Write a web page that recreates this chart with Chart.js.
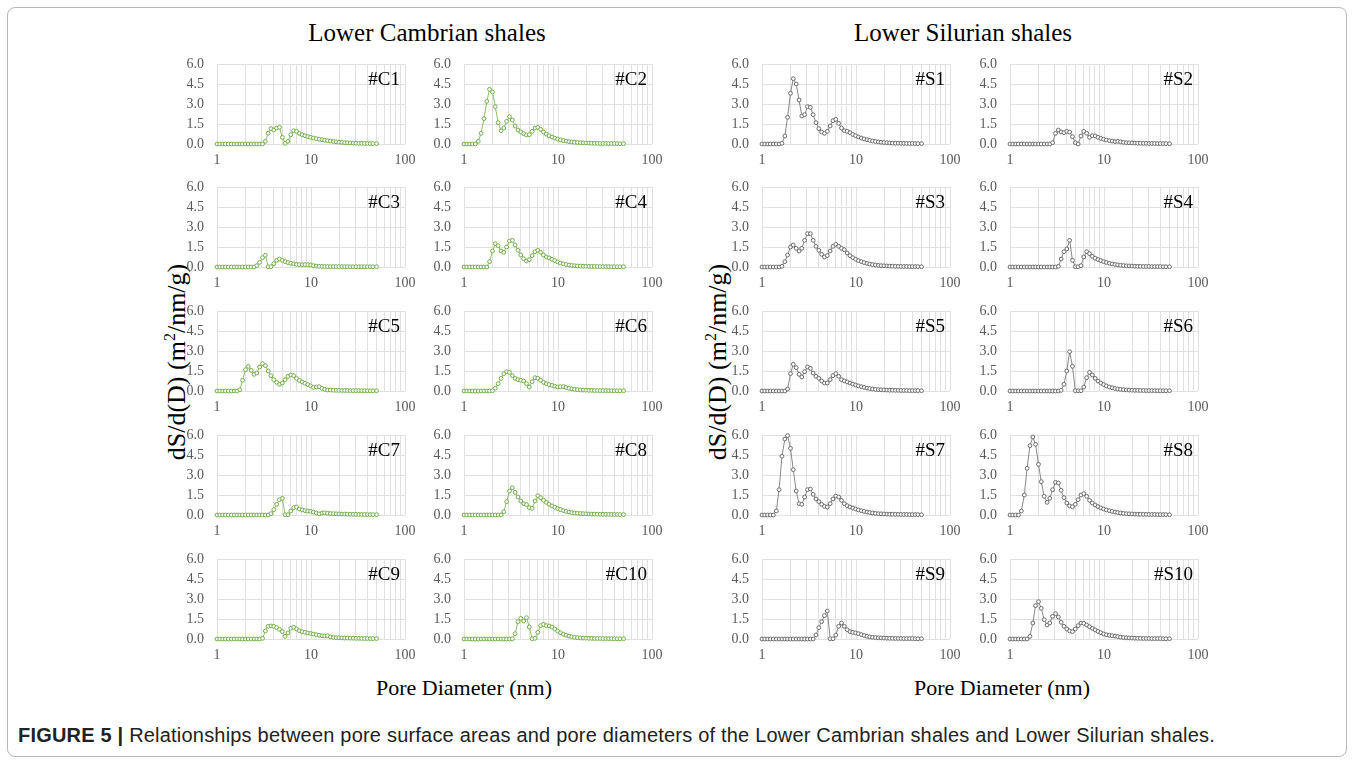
<!DOCTYPE html>
<html>
<head>
<meta charset="utf-8">
<script src="https://cdn.jsdelivr.net/npm/chart.js@4.4.1/dist/chart.umd.min.js"></script>
<style>
  html, body { margin: 0; padding: 0; background: #fff; }
  body { width: 1354px; height: 762px; position: relative; overflow: hidden; font-family: "Liberation Serif", serif; }
  .frame { position: absolute; left: 7px; top: 7px; width: 1338px; height: 748px; border: 1px solid #b8b8b8; border-radius: 8px; }
  .panel { position: absolute; }
  .txt { position: absolute; white-space: nowrap; color: #000; }
  .group-title { font-size: 25px; transform: translate(-50%, -50%); }
  .ylab { font-size: 26px; transform: translate(-50%, -50%) rotate(-90deg); }
  .ylab sup { font-size: 16px; vertical-align: 10px; line-height: 0; }
  .xlab { font-size: 22px; transform: translate(-50%, -50%); }
  .caption { left: 18px; top: 724px; font-family: "Liberation Sans", Arial, sans-serif; font-size: 20px; letter-spacing: 0.2px; color: #222; }
  .caption b { font-weight: bold; }
</style>
</head>
<body>
<div class="frame"></div>
<div class="txt group-title" style="left:427px; top:33px;">Lower Cambrian shales</div>
<div class="txt group-title" style="left:963px; top:33px;">Lower Silurian shales</div>
<div class="txt ylab" style="left:177px; top:362px;">dS/d(D) (m<sup>2</sup>/nm/g)</div>
<div class="txt ylab" style="left:718px; top:362px;">dS/d(D) (m<sup>2</sup>/nm/g)</div>
<div class="txt xlab" style="left:464px; top:688px;">Pore Diameter (nm)</div>
<div class="txt xlab" style="left:1002px; top:688px;">Pore Diameter (nm)</div>
<div class="txt caption"><b>FIGURE 5 |</b> Relationships between pore surface areas and pore diameters of the Lower Cambrian shales and Lower Silurian shales.</div>

<script>
// pore diameters (nm), shared by every panel
const diameters = [1.00, 1.07, 1.15, 1.23, 1.32, 1.42, 1.52, 1.63, 1.75, 1.87,
    2.01, 2.15, 2.31, 2.48, 2.65, 2.84, 3.05, 3.27, 3.50, 3.75,
    4.02, 4.31, 4.62, 4.95, 5.31, 5.69, 6.10, 6.54, 7.01, 7.51,
    8.05, 8.63, 9.25, 9.91, 10.6, 11.4, 12.2, 13.1, 14.0, 15.0,
    16.1, 17.3, 18.5, 19.8, 21.3, 22.8, 24.4, 26.2, 28.1, 30.1,
    32.3, 34.6, 37.1, 39.7, 42.6, 45.6, 49.8];

// Lower Cambrian shales, dS/d(D)
const c1 = [0, 0, 0, 0, 0, 0, 0, 0, 0, 0,
    0, 0, 0, 0, 0, 0, 0, 0.2, 0.8, 1.15,
    1.05, 1.2, 1.25, 0.5, 0.05, 0.2, 0.7, 1.0, 0.95, 0.8,
    0.7, 0.62, 0.55, 0.5, 0.45, 0.4, 0.36, 0.32, 0.28, 0.25,
    0.22, 0.19, 0.16, 0.14, 0.12, 0.1, 0.09, 0.08, 0.07, 0.06,
    0.05, 0.05, 0.04, 0.04, 0.03, 0.03, 0.03];
const c2 = [0, 0, 0, 0, 0, 0.2, 0.8, 1.9, 3.2, 4.1,
    3.9, 2.8, 1.6, 1.0, 1.2, 1.7, 2.05, 1.8, 1.35, 1.05,
    0.9, 0.78, 0.68, 0.7, 0.95, 1.2, 1.25, 1.1, 0.9, 0.75,
    0.62, 0.52, 0.44, 0.37, 0.31, 0.26, 0.22, 0.18, 0.15, 0.13,
    0.11, 0.1, 0.09, 0.08, 0.07, 0.06, 0.05, 0.05, 0.04, 0.04,
    0.04, 0.03, 0.03, 0.03, 0.03, 0.02, 0.02];
const c3 = [0, 0, 0, 0, 0, 0, 0, 0, 0, 0,
    0, 0, 0, 0, 0.1, 0.35, 0.7, 0.88, 0.02, 0.02,
    0.25, 0.5, 0.6, 0.5, 0.4, 0.33, 0.28, 0.24, 0.2, 0.18,
    0.17, 0.18, 0.18, 0.15, 0.1, 0.07, 0.05, 0.04, 0.04, 0.03,
    0.03, 0.03, 0.03, 0.03, 0.03, 0.02, 0.02, 0.02, 0.02, 0.02,
    0.02, 0.02, 0.02, 0.02, 0.02, 0.02, 0.02];
const c4 = [0, 0, 0, 0, 0, 0, 0, 0, 0, 0.4,
    1.2, 1.75, 1.6, 1.2, 1.1, 1.5, 1.95, 2.0, 1.65, 1.25,
    0.9, 0.62, 0.45, 0.55, 0.85, 1.15, 1.25, 1.1, 0.9, 0.75,
    0.68, 0.58, 0.48, 0.38, 0.3, 0.24, 0.19, 0.15, 0.12, 0.1,
    0.08, 0.07, 0.06, 0.05, 0.05, 0.04, 0.04, 0.04, 0.03, 0.03,
    0.03, 0.03, 0.02, 0.02, 0.02, 0.02, 0.02];
const c5 = [0, 0, 0, 0, 0, 0, 0, 0, 0.1, 0.8,
    1.6, 1.85, 1.55, 1.25, 1.35, 1.8, 2.05, 1.9, 1.5, 1.15,
    0.85, 0.65, 0.5, 0.6, 0.85, 1.1, 1.2, 1.15, 0.95, 0.8,
    0.68, 0.58, 0.48, 0.38, 0.28, 0.3, 0.33, 0.2, 0.12, 0.08,
    0.07, 0.06, 0.05, 0.05, 0.04, 0.04, 0.04, 0.03, 0.03, 0.03,
    0.03, 0.02, 0.02, 0.02, 0.02, 0.02, 0.02];
const c6 = [0, 0, 0, 0, 0, 0, 0, 0, 0, 0,
    0.02, 0.2, 0.55, 0.95, 1.3, 1.45, 1.4, 1.15, 0.95, 0.85,
    0.8, 0.75, 0.55, 0.3, 0.7, 1.0, 0.95, 0.8, 0.65, 0.55,
    0.48, 0.42, 0.36, 0.3, 0.32, 0.33, 0.26, 0.2, 0.16, 0.13,
    0.1, 0.08, 0.07, 0.06, 0.05, 0.05, 0.04, 0.04, 0.03, 0.03,
    0.03, 0.03, 0.02, 0.02, 0.02, 0.02, 0.02];
const c7 = [0, 0, 0, 0, 0, 0, 0, 0, 0, 0,
    0, 0, 0, 0, 0, 0, 0, 0, 0, 0.1,
    0.4, 0.8, 1.15, 1.25, 0.02, 0.02, 0.3, 0.55, 0.6, 0.45,
    0.38, 0.33, 0.3, 0.27, 0.22, 0.15, 0.08, 0.15, 0.16, 0.13,
    0.11, 0.1, 0.09, 0.08, 0.07, 0.07, 0.06, 0.06, 0.05, 0.05,
    0.04, 0.04, 0.04, 0.03, 0.03, 0.03, 0.03];
const c8 = [0, 0, 0, 0, 0, 0, 0, 0, 0, 0,
    0, 0, 0, 0, 0.25, 1.0, 1.8, 2.05, 1.7, 1.35,
    1.05, 0.85, 0.78, 0.55, 0.5, 1.05, 1.45, 1.3, 1.1, 0.95,
    0.8, 0.68, 0.58, 0.48, 0.4, 0.33, 0.27, 0.22, 0.18, 0.15,
    0.13, 0.11, 0.1, 0.09, 0.08, 0.07, 0.07, 0.06, 0.06, 0.05,
    0.05, 0.05, 0.04, 0.04, 0.04, 0.03, 0.03];
const c9 = [0, 0, 0, 0, 0, 0, 0, 0, 0, 0,
    0, 0, 0, 0, 0, 0, 0.05, 0.6, 0.95, 0.98,
    0.95, 0.85, 0.72, 0.55, 0.2, 0.45, 0.8, 0.88, 0.75, 0.62,
    0.55, 0.5, 0.45, 0.41, 0.37, 0.32, 0.28, 0.24, 0.23, 0.24,
    0.16, 0.12, 0.1, 0.09, 0.08, 0.07, 0.07, 0.06, 0.06, 0.05,
    0.05, 0.04, 0.04, 0.04, 0.03, 0.03, 0.03];
const c10 = [0, 0, 0, 0, 0, 0, 0, 0, 0, 0,
    0, 0, 0, 0, 0, 0, 0, 0.02, 0.4, 1.3,
    1.55, 1.35, 1.6, 0.9, 0.02, 0.05, 0.5, 1.0, 1.1, 1.0,
    0.98, 0.9, 0.75, 0.6, 0.47, 0.36, 0.28, 0.22, 0.17, 0.13,
    0.1, 0.08, 0.07, 0.06, 0.05, 0.05, 0.04, 0.04, 0.04, 0.03,
    0.03, 0.03, 0.03, 0.02, 0.02, 0.02, 0.02];

// Lower Silurian shales, dS/d(D)
const s1 = [0, 0, 0, 0, 0, 0, 0, 0.05, 0.6, 2.0,
    3.8, 4.9, 4.5, 3.3, 2.1, 2.2, 2.8, 2.75, 2.2, 1.6,
    1.15, 0.9, 0.8, 0.95, 1.35, 1.75, 1.85, 1.55, 1.2, 1.0,
    0.95, 0.85, 0.72, 0.62, 0.53, 0.45, 0.38, 0.32, 0.27, 0.22,
    0.19, 0.16, 0.13, 0.11, 0.1, 0.08, 0.07, 0.06, 0.06, 0.05,
    0.05, 0.04, 0.04, 0.04, 0.03, 0.03, 0.03];
const s2 = [0, 0, 0, 0, 0, 0, 0, 0, 0, 0,
    0, 0, 0, 0, 0, 0.1, 0.8, 1.05, 0.9, 0.85,
    0.95, 0.9, 0.55, 0.1, 0.0, 0.6, 0.95, 0.8, 0.5, 0.62,
    0.6, 0.5, 0.42, 0.36, 0.3, 0.25, 0.22, 0.18, 0.2, 0.16,
    0.12, 0.1, 0.09, 0.08, 0.07, 0.06, 0.06, 0.05, 0.05, 0.04,
    0.04, 0.04, 0.03, 0.03, 0.03, 0.03, 0.02];
const s3 = [0, 0, 0, 0, 0, 0, 0, 0.05, 0.4, 0.9,
    1.5, 1.65, 1.4, 1.2, 1.4, 2.0, 2.5, 2.5, 2.0, 1.55,
    1.25, 0.95, 0.75, 0.85, 1.2, 1.55, 1.7, 1.55, 1.4, 1.3,
    1.05, 0.85, 0.7, 0.58, 0.48, 0.4, 0.33, 0.27, 0.22, 0.18,
    0.15, 0.12, 0.1, 0.09, 0.08, 0.07, 0.06, 0.05, 0.05, 0.04,
    0.04, 0.04, 0.03, 0.03, 0.03, 0.03, 0.02];
const s4 = [0, 0, 0, 0, 0, 0, 0, 0, 0, 0,
    0, 0, 0, 0, 0, 0, 0, 0.05, 0.6, 1.15,
    1.35, 2.0, 0.5, 0.02, 0.02, 0.1, 0.75, 1.15, 1.0, 0.8,
    0.66, 0.56, 0.48, 0.4, 0.34, 0.28, 0.23, 0.19, 0.16, 0.13,
    0.11, 0.09, 0.08, 0.07, 0.06, 0.05, 0.05, 0.04, 0.04, 0.04,
    0.03, 0.03, 0.03, 0.03, 0.02, 0.02, 0.02];
const s5 = [0, 0, 0, 0, 0, 0, 0, 0, 0, 0.15,
    1.3, 2.0, 1.75, 1.25, 1.05, 1.45, 1.8, 1.7, 1.35, 1.1,
    0.95, 0.75, 0.6, 0.6, 0.85, 1.15, 1.3, 1.1, 0.85, 0.75,
    0.68, 0.6, 0.52, 0.45, 0.38, 0.32, 0.27, 0.22, 0.18, 0.15,
    0.12, 0.1, 0.09, 0.08, 0.07, 0.06, 0.06, 0.05, 0.05, 0.04,
    0.04, 0.04, 0.03, 0.03, 0.03, 0.03, 0.02];
const s6 = [0, 0, 0, 0, 0, 0, 0, 0, 0, 0,
    0, 0, 0, 0, 0, 0, 0, 0, 0.05, 0.5,
    1.5, 2.95, 1.85, 0.02, 0.02, 0.02, 0.3, 1.0, 1.4, 1.2,
    0.95, 0.75, 0.6, 0.48, 0.38, 0.3, 0.24, 0.19, 0.15, 0.12,
    0.1, 0.08, 0.07, 0.06, 0.05, 0.05, 0.04, 0.04, 0.03, 0.03,
    0.03, 0.03, 0.02, 0.02, 0.02, 0.02, 0.02];
const s7 = [0, 0, 0, 0, 0, 0.3, 1.9, 4.4, 5.7, 5.95,
    5.0, 3.4, 1.8, 0.85, 0.8, 1.35, 1.9, 1.95, 1.55, 1.2,
    1.0, 0.8, 0.65, 0.6, 0.85, 1.2, 1.42, 1.35, 1.1, 0.85,
    0.7, 0.6, 0.52, 0.45, 0.38, 0.32, 0.27, 0.22, 0.18, 0.15,
    0.12, 0.1, 0.09, 0.08, 0.07, 0.06, 0.06, 0.05, 0.05, 0.04,
    0.04, 0.04, 0.03, 0.03, 0.03, 0.03, 0.02];
const s8 = [0, 0, 0, 0, 0.3, 1.5, 3.5, 5.2, 5.85, 5.3,
    3.8, 2.5, 1.4, 0.95, 1.25, 1.9, 2.45, 2.4, 1.85, 1.3,
    0.9, 0.68, 0.62, 0.8, 1.15, 1.5, 1.6, 1.4, 1.1, 0.9,
    0.75, 0.63, 0.53, 0.45, 0.38, 0.32, 0.27, 0.22, 0.18, 0.15,
    0.12, 0.1, 0.09, 0.08, 0.07, 0.06, 0.06, 0.05, 0.05, 0.04,
    0.04, 0.04, 0.03, 0.03, 0.03, 0.03, 0.02];
const s9 = [0, 0, 0, 0, 0, 0, 0, 0, 0, 0,
    0, 0, 0, 0, 0, 0, 0, 0, 0, 0.3,
    0.85, 1.3, 1.75, 2.1, 0.02, 0.02, 0.3, 0.95, 1.2, 0.95,
    0.7, 0.55, 0.5, 0.46, 0.4, 0.33, 0.26, 0.2, 0.16, 0.13,
    0.11, 0.09, 0.08, 0.07, 0.06, 0.05, 0.05, 0.04, 0.04, 0.04,
    0.03, 0.03, 0.03, 0.03, 0.02, 0.02, 0.02];
const s10 = [0, 0, 0, 0, 0, 0, 0, 0.2, 1.2, 2.5,
    2.8, 2.3, 1.45, 1.05, 1.2, 1.7, 1.9, 1.65, 1.25, 0.95,
    0.75, 0.6, 0.55, 0.75, 1.0, 1.2, 1.18, 1.05, 0.92, 0.8,
    0.68, 0.57, 0.47, 0.38, 0.32, 0.28, 0.25, 0.22, 0.18, 0.14,
    0.11, 0.09, 0.08, 0.07, 0.06, 0.05, 0.05, 0.04, 0.04, 0.04,
    0.03, 0.03, 0.03, 0.03, 0.02, 0.02, 0.02];

// axis ticks
const xTicks = [1, 2, 3, 4, 5, 6, 7, 8, 9, 10, 20, 30, 40, 50, 60, 70, 80, 90, 100];
const xLabels = [1, 10, 100];
const yTicks = [0, 1.5, 3, 4.5, 6];

const panelNames = ['#C1', '#C2', '#C3', '#C4', '#C5', '#C6', '#C7', '#C8', '#C9', '#C10',
    '#S1', '#S2', '#S3', '#S4', '#S5', '#S6', '#S7', '#S8', '#S9', '#S10'];
const panelSeries = [c1, c2, c3, c4, c5, c6, c7, c8, c9, c10,
    s1, s2, s3, s4, s5, s6, s7, s8, s9, s10];

// layout of the panel grid (plot-area left edges and tops)
const colLeft = [217, 464, 762, 1010];
const rowTop = [64, 187, 311, 435, 559];
const plotW = 188, plotH = 80;
const yAxisW = 50, xAxisH = 22, padTop = 8, padRight = 14;

const GREEN = '#70ad47';
const GREY = '#6a6a6a';
const TICK_FONT = { family: '"Liberation Serif", serif', size: 14 };

// draws the "#C1" style tag in the top right of each plot
const panelTag = {
    id: 'panelTag',
    afterDraw(chart, args, opts) {
        const { ctx, chartArea } = chart;
        ctx.save();
        ctx.font = '19px "Liberation Serif", serif';
        ctx.fillStyle = '#000';
        ctx.textAlign = 'right';
        ctx.textBaseline = 'middle';
        ctx.fillText(opts.text, chartArea.right - 5, chartArea.top + 16);
        ctx.restore();
    }
};

panelSeries.forEach((series, i) => {
    const silurian = i >= 10;
    const k = i % 10;
    const col = (silurian ? 2 : 0) + (k % 2);
    const row = Math.floor(k / 2);
    const color = silurian ? GREY : GREEN;

    const canvas = document.createElement('canvas');
    canvas.className = 'panel';
    canvas.width = yAxisW + plotW + padRight;
    canvas.height = padTop + plotH + xAxisH;
    canvas.style.left = (colLeft[col] - yAxisW) + 'px';
    canvas.style.top = (rowTop[row] - padTop) + 'px';
    document.body.appendChild(canvas);

    new Chart(canvas, {
        type: 'line',
        data: {
            datasets: [{
                data: diameters.map((d, j) => ({ x: d, y: series[j] })),
                borderColor: color,
                borderWidth: 0.8,
                pointRadius: 1.9,
                pointBorderWidth: 1,
                pointBorderColor: color,
                pointBackgroundColor: '#ffffff',
                tension: 0,
                clip: 4
            }]
        },
        options: {
            responsive: false,
            animation: false,
            devicePixelRatio: 1,
            layout: { padding: { top: padTop, right: padRight, left: 0, bottom: 0 } },
            plugins: {
                legend: { display: false },
                tooltip: { enabled: false },
                panelTag: { text: panelNames[i] }
            },
            scales: {
                x: {
                    type: 'logarithmic',
                    min: 1,
                    max: 100,
                    afterBuildTicks: scale => { scale.ticks = xTicks.map(v => ({ value: v })); },
                    afterFit: scale => {
                        scale.height = xAxisH;
                        scale.paddingLeft = 0;
                        scale.paddingRight = 0;
                    },
                    grid: { color: '#e0e0e0', lineWidth: 1, drawTicks: false },
                    border: { display: false },
                    ticks: {
                        autoSkip: false,
                        maxRotation: 0,
                        padding: 8,
                        color: '#595959',
                        font: TICK_FONT,
                        callback: v => xLabels.includes(v) ? String(v) : ''
                    }
                },
                y: {
                    min: 0,
                    max: 6,
                    afterBuildTicks: scale => { scale.ticks = yTicks.map(v => ({ value: v })); },
                    afterFit: scale => {
                        scale.width = yAxisW;
                        scale.paddingTop = 0;
                        scale.paddingBottom = 0;
                    },
                    grid: { color: '#e0e0e0', lineWidth: 1, drawTicks: false },
                    border: { display: false },
                    ticks: {
                        autoSkip: false,
                        padding: 13,
                        color: '#595959',
                        font: TICK_FONT,
                        callback: v => v.toFixed(1)
                    }
                }
            }
        },
        plugins: [panelTag]
    });
});
</script>
</body>
</html>
